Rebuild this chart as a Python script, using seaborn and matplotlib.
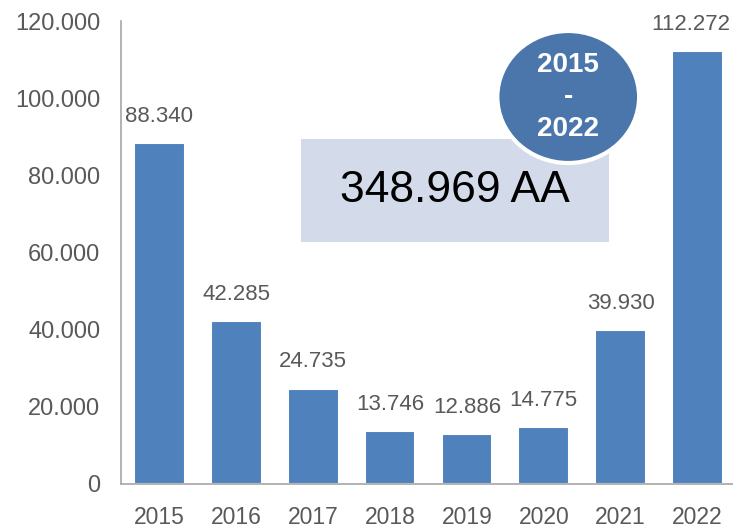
import numpy as np
import pandas as pd
import seaborn as sns
import matplotlib.pyplot as plt
import matplotlib.transforms as mtransforms
from matplotlib.patches import Rectangle, Ellipse
from matplotlib.ticker import FuncFormatter, FixedLocator

years = ['2015', '2016', '2017', '2018', '2019', '2020', '2021', '2022']
values = [88340, 42285, 24735, 13746, 12886, 14775, 39930, 112272]
total_label = '348.969 AA'
period_label = '2015\n-\n2022'

sns.set_style('white')
plt.rcParams['font.family'] = ['Liberation Sans', 'DejaVu Sans']

df = pd.DataFrame({'year': years, 'value': values})

def dotted(v):
    return f'{int(round(v)):,}'.replace(',', '.')

fig = plt.figure(figsize=(7.33, 5.30), dpi=100)
ax = fig.add_axes([121/733, 46/530, 1 - 121/733 + 0.004, (484 - 21)/530])

sns.barplot(data=df, x='year', y='value', color='#4F81BD', saturation=1,
            width=0.66, edgecolor='white', linewidth=1.5, ax=ax)

ax.set_ylim(0, 120000)
ax.set_xlim(-0.5, 7.5)
ax.set_yticks(np.arange(0, 120001, 20000))
ax.yaxis.set_major_formatter(FuncFormatter(lambda v, p: dotted(v)))
ax.set_xlabel('')
ax.set_ylabel('')

for s in ['top', 'right']:
    ax.spines[s].set_visible(False)
for s in ['left', 'bottom']:
    ax.spines[s].set_color('#A6A6A6')
    ax.spines[s].set_linewidth(1.2)

ax.tick_params(axis='y', length=6, color='#A6A6A6', labelsize=17, labelcolor='#595959', pad=9)
ax.tick_params(axis='x', which='major', length=0, labelsize=16.5, labelcolor='#595959', pad=16)
ax.xaxis.set_minor_locator(FixedLocator(np.arange(-0.5, 8, 1)))
ax.tick_params(axis='x', which='minor', length=7, color='#A6A6A6', width=1.2)

labels = []
for i, v in enumerate(values):
    labels.append(ax.text(i, v + 4200, dotted(v), ha='center', va='bottom',
                          fontsize=16, color='#595959'))

# summary box
bx0, bx1 = (301 - 121) / 77 - 0.5, (610 - 121) / 77 - 0.5
ax.add_patch(Rectangle((bx0, 62700), bx1 - bx0, 26800, facecolor='#D3DAEA',
                       edgecolor='none', zorder=3, clip_on=False))
ax.text((bx0 + bx1) / 2, 76000, total_label, ha='center', va='center',
        fontsize=32, color='black', zorder=4)

# period bubble
cx = (569 - 121) / 77 - 0.5
cy = (484 - 97) / 463 * 120000
ax.add_patch(Ellipse((cx, cy), 142 / 77, 132 / 463 * 120000,
                     facecolor='#4A76AC', edgecolor='white', linewidth=3, zorder=5, clip_on=False))
ax.text(cx, cy, period_label, ha='center', va='center',
        fontsize=20, color='white', fontweight='bold', linespacing=1.3, zorder=6)

# keep labels inside the figure
fig.canvas.draw()
renderer = fig.canvas.get_renderer()
for t in labels:
    bb = t.get_window_extent(renderer)
    over = bb.x1 - (fig.bbox.width - 3)
    if over > 0:
        t.set_transform(t.get_transform() + mtransforms.Affine2D().translate(-over, 0))

fig.savefig('out.png', dpi=100)
